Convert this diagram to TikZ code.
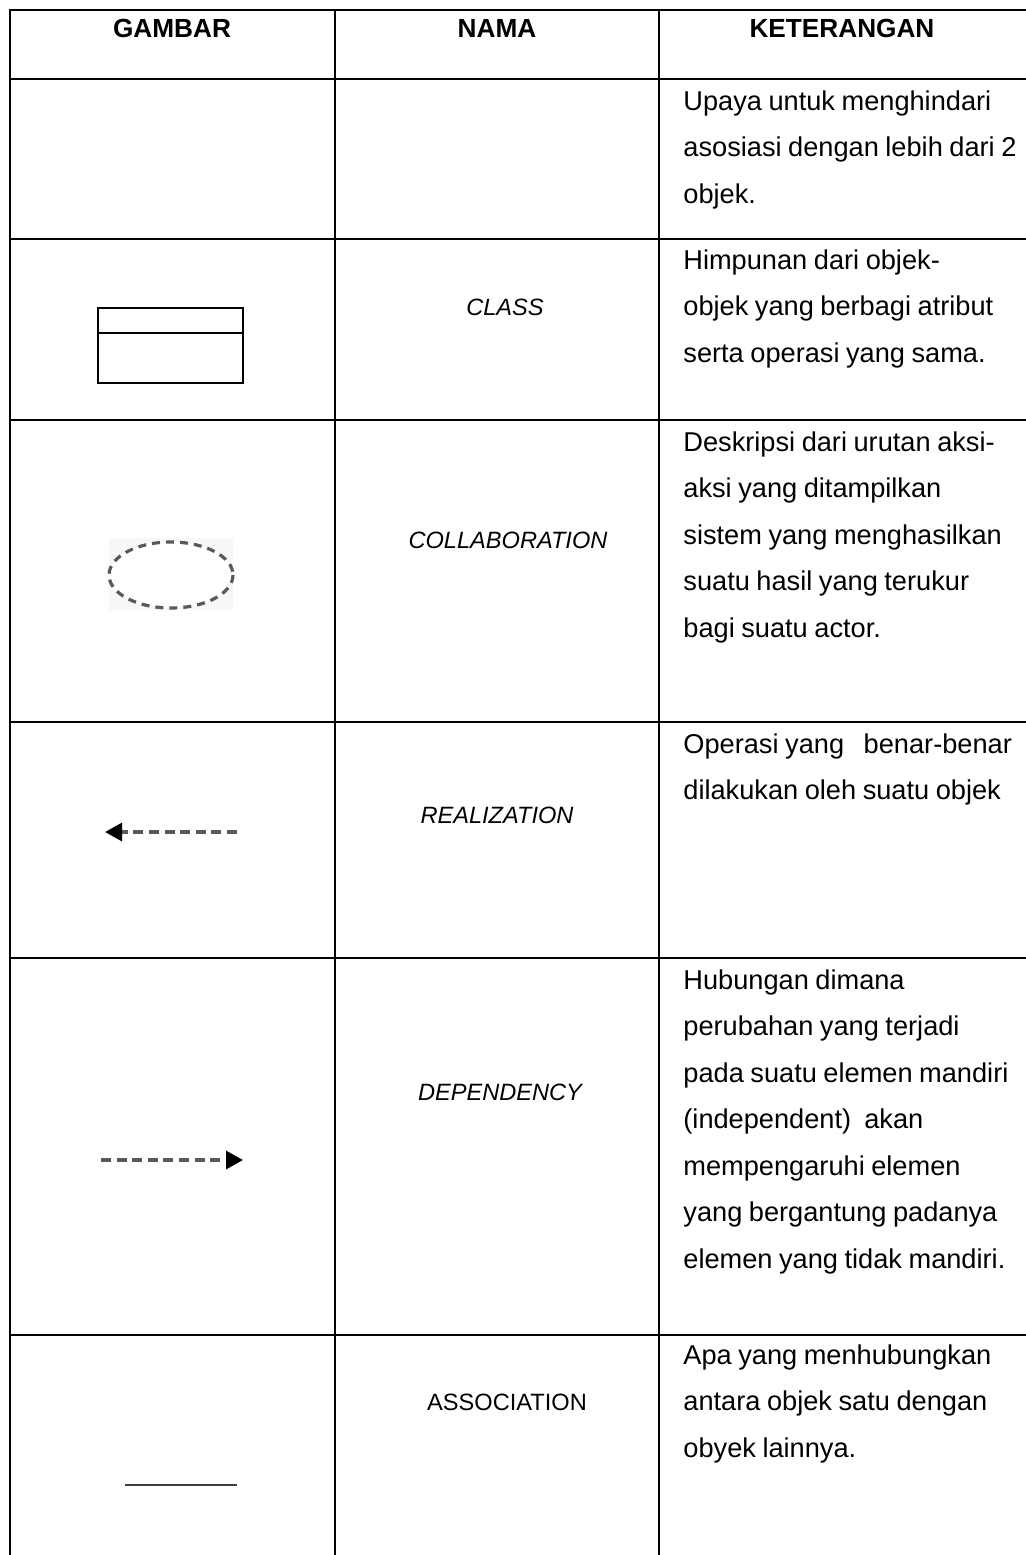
\documentclass[tikz,border=0pt]{standalone}
\usepackage{fontspec}
\setmainfont{Liberation Sans}
\usetikzlibrary{arrows.meta}
\newcommand\headfont{\fontsize{13.1}{16}\selectfont\bfseries}
\newcommand\namafont{\fontsize{11.8}{14}\selectfont}
\newcommand\ketfont{\fontsize{13.6}{23.25}\selectfont\spaceskip=0.24em plus 0.1em minus 0.05em\relax}
\tikzset{
  rule/.style={line width=1pt,line cap=rect},
  head/.style={font=\headfont,anchor=base,inner sep=0pt},
  nama/.style={font=\namafont\itshape,anchor=base,inner sep=0pt},
  ket/.style={font=\ketfont,anchor=base west,align=left,inner sep=0pt},
  icon/.style={line width=1.3pt,draw=black!75},
  dashline/.style={icon,line width=1.6pt,draw=black!65,dash pattern=on 5pt off 2.8pt},
  tip/.style={-{Triangle[length=8.5pt,width=9pt,color=black]}}
}
\begin{document}
\begin{tikzpicture}[x=0.5pt,y=-0.5pt]
  \useasboundingbox (0,0) rectangle (1025,1555);
  \def\hl#1{
    \draw[rule] (10,#1) -- (1025,#1);
  }
  \def\vl#1{
    \draw[rule] (#1,10) -- (#1,1555);
  }
  % table rules
  \hl{10}
  \hl{79}
  \hl{239}
  \hl{420}
  \hl{722}
  \hl{958}
  \hl{1335}
  \vl{10}
  \vl{335}
  \vl{659}
  % header
  \node[head] (gambar) at (172,37) {GAMBAR};
  \node[head] (nama) at (497,37) {NAMA};
  \node[head] (keterangan) at (842,37) {KETERANGAN};
  % names
  \node[nama] (class) at (505,315) {CLASS};
  \node[nama] (collab) at (508,548) {COLLABORATION};
  \node[nama] (realiz) at (497,823) {REALIZATION};
  \node[nama] (depend) at (500,1100) {DEPENDENCY};
  \node[nama,font=\namafont] (assoc) at (507,1410) {ASSOCIATION};
  % descriptions (anchored at the baseline of the last line)
  \node[ket] (ket1) at (683,203) {Upaya untuk menghindari\\asosiasi dengan lebih dari 2\\objek.};
  \node[ket] (ket2) at (683,362) {Himpunan dari objek-\\objek yang berbagi atribut\\serta operasi yang sama.};
  \node[ket] (ket3) at (683,637) {Deskripsi dari urutan aksi-\\aksi yang ditampilkan\\sistem yang menghasilkan\\suatu hasil yang terukur\\bagi suatu actor.};
  \node[ket] (ket4) at (683,799.5) {Operasi yang\ \ \ benar-benar\\dilakukan oleh suatu objek};
  \node[ket] (ket5) at (683,1268) {Hubungan dimana\\perubahan yang terjadi\\pada suatu elemen mandiri\\(independent)\ \ akan\\mempengaruhi elemen\\yang bergantung padanya\\elemen yang tidak mandiri.};
  \node[ket] (ket6) at (683,1457) {Apa yang menhubungkan\\antara objek satu dengan\\obyek lainnya.};
  % class icon
  \draw[line width=1pt] (98,308) rectangle (243,383);
  \draw[line width=1pt] (98,333) -- (243,333);
  % collaboration icon
  \fill[black!3] (109,538) rectangle (233,610);
  \draw[dashline,fill=white,dash pattern=on 4pt off 3pt] (171,575) ellipse [x radius=62,y radius=33];
  % realization icon
  \coordinate (realA) at (237,832);
  \coordinate (realB) at (105,832);
  \draw[dashline,tip] (realA) -- (realB);
  % dependency icon
  \coordinate (depA) at (101,1160);
  \coordinate (depB) at (243,1160);
  \draw[dashline,tip] (depA) -- (depB);
  % association icon
  \coordinate (assA) at (125,1485);
  \coordinate (assB) at (237,1485);
  \draw[icon] (assA) -- (assB);
\end{tikzpicture}
\end{document}
